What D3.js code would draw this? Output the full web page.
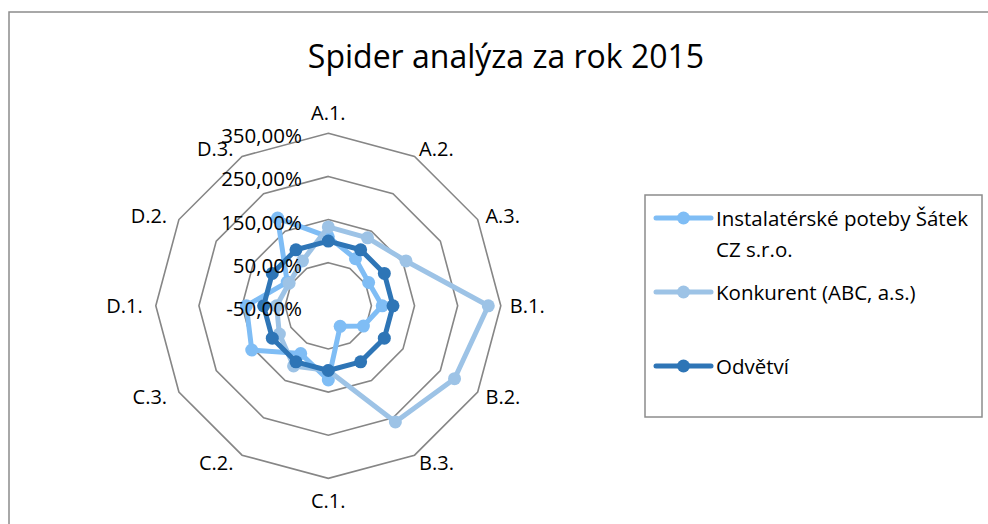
<!DOCTYPE html>
<html><head><meta charset="utf-8">
<script src="https://cdn.jsdelivr.net/npm/d3@7"></script>
<style>body{margin:0;background:#fff}svg{display:block}text{font-family:"Open Sans",sans-serif;fill:#000}</style>
</head><body><svg id="c" width="988" height="524"></svg>
<script>
const categories = ["A.1.","A.2.","A.3.","B.1.","B.2.","B.3.","C.1.","C.2.","C.3.","D.1.","D.2.","D.3."];
const seriesNames = ["Instalatérské poteby Šátek CZ s.r.o.","Konkurent (ABC, a.s.)","Odvětví"];
const instalaterske = [110, 76, 58, 75, 44, 5, 122, 78, 155, 140, 60, 185];
const konkurent = [133, 132, 158, 321, 288, 261, 100, 111, 81, 70, 55, 70];
const odvetvi = [100, 100, 100, 100, 100, 100, 100, 100, 100, 100, 100, 100];
const tickValues = [-50, 50, 150, 250, 350];
const tickLabels = ["-50,00%","50,00%","150,00%","250,00%","350,00%"];
const colors = ["#7fbdf5","#9dc3e6","#2e75b6"];

const svg = d3.select("#c");
const cx = 328.3, cy = 305.8, R = 172.5;
svg.append("rect").attr("x",9).attr("y",12).attr("width",1000).attr("height",540)
  .attr("fill","#fff").attr("stroke","#8c8c8c").attr("stroke-width",1.5);

svg.append("text").attr("x",506).attr("y",68).attr("text-anchor","middle")
  .style("font-size","32px").text("Spider analýza za rok 2015");

const r = d3.scaleLinear().domain([-50,350]).range([0,R]);
const ang = d3.scalePoint().domain(categories).range([0, 2*Math.PI*11/12]);
const px = (c,v)=> cx + r(v)*Math.sin(ang(c));
const py = (c,v)=> cy - r(v)*Math.cos(ang(c));

const g = svg.append("g");
tickValues.filter(t=>t>-50).forEach(t=>{
  g.append("path").attr("d", d3.line()(categories.map(c=>[px(c,t),py(c,t)])) + "Z")
   .attr("fill","none").attr("stroke","#868686").attr("stroke-width",1.6);
});

// category labels
categories.forEach(c=>{
  const a = ang(c), s = Math.sin(a), co = Math.cos(a);
  let x, y, anchor, base;
  if (Math.abs(s) < 0.01) {
    x = cx; anchor = "middle";
    if (co > 0) { y = cy - R - 13; base = "auto"; } else { y = cy + R + 13; base = "hanging"; }
  } else {
    const rr = R + 9;
    x = cx + rr*s; y = cy - rr*co;
    anchor = s > 0 ? "start" : "end";
    x += s > 0 ? 0 : -4;
    base = "central";
  }
  g.append("text").attr("x",x).attr("y",y).attr("text-anchor",anchor)
   .attr("dominant-baseline",base).style("font-size","20px").text(c);
});

// series
const allSeries = [instalaterske, konkurent, odvetvi];
allSeries.forEach((vals,i)=>{
  const pts = categories.map((c,j)=>[px(c,vals[j]), py(c,vals[j])]);
  g.append("path").attr("d", d3.line()(pts)+"Z").attr("fill","none")
   .attr("stroke",colors[i]).attr("stroke-width",5).attr("stroke-linejoin","round");
  g.selectAll(null).data(pts).enter().append("circle")
   .attr("cx",d=>d[0]).attr("cy",d=>d[1]).attr("r",6.5).attr("fill",colors[i]);
});

// tick labels
tickValues.forEach((t,i)=>{
  g.append("text").attr("x",302).attr("y",cy - r(t) + 2).attr("text-anchor","end")
   .attr("dominant-baseline","central").style("font-size","20.5px").text(tickLabels[i]);
});

// legend
const lg = svg.append("g");
lg.append("rect").attr("x",645).attr("y",195).attr("width",337).attr("height",222)
  .attr("fill","#fff").attr("stroke","#8c8c8c").attr("stroke-width",1.5);
const legendY = [218, 292, 366];
const legendLines = [["Instalatérské poteby Šátek","CZ s.r.o."],["Konkurent (ABC, a.s.)"],["Odvětví"]];
legendY.forEach((y,i)=>{
  lg.append("line").attr("x1",656).attr("x2",711).attr("y1",y).attr("y2",y)
    .attr("stroke",colors[i]).attr("stroke-width",5).attr("stroke-linecap","round");
  lg.append("circle").attr("cx",683.5).attr("cy",y).attr("r",6.5).attr("fill",colors[i]);
  legendLines[i].forEach((ln,k)=>{
    lg.append("text").attr("x",716).attr("y",y + k*31).attr("dominant-baseline","central")
      .style("font-size","20.5px").text(ln);
  });
});
</script></body></html>
